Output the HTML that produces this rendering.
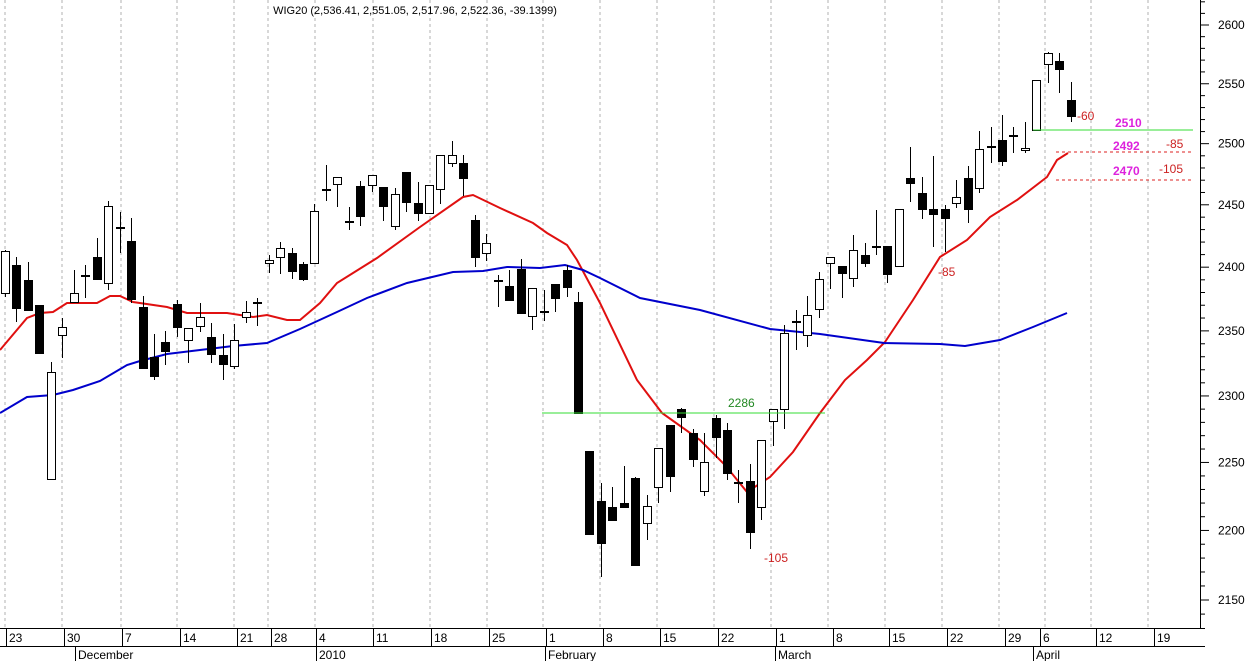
<!DOCTYPE html>
<html><head><meta charset="utf-8"><style>
html,body{margin:0;padding:0;background:#fff;width:1250px;height:661px;overflow:hidden}
svg{display:block;font-family:"Liberation Sans",sans-serif}
</style></head><body>
<svg id="c" width="1250" height="661" viewBox="0 0 1250 661" xmlns="http://www.w3.org/2000/svg">
<rect width="1250" height="661" fill="#fff"/>
<g id="grid"></g>
<g id="lines"></g>
<g id="candles"></g>
<g id="axis"></g>
<text x="415" y="14" font-size="11" text-anchor="middle" fill="#000">WIG20 (2,536.41, 2,551.05, 2,517.96, 2,522.36, -39.1399)</text>
<line x1="542" y1="413" x2="825" y2="413" stroke="#33dd33" stroke-width="1"/>
<text x="728" y="407" font-size="12" fill="#228822">2286</text>
<line x1="1033" y1="130" x2="1193" y2="130" stroke="#33dd33" stroke-width="1"/>
<line x1="1056" y1="152" x2="1192" y2="152" stroke="#dd2222" stroke-dasharray="3,3"/>
<line x1="1056" y1="180" x2="1192" y2="180" stroke="#dd2222" stroke-dasharray="3,3"/>
<text x="1115" y="127" font-size="12" font-weight="bold" fill="#dd22dd">2510</text>
<text x="1113" y="150" font-size="12" font-weight="bold" fill="#dd22dd">2492</text>
<text x="1113" y="175" font-size="12" font-weight="bold" fill="#dd22dd">2470</text>
<text x="1166" y="148" font-size="12" fill="#cc2222">-85</text>
<text x="1159" y="173" font-size="12" fill="#cc2222">-105</text>
<text x="1077" y="120" font-size="12" fill="#cc2222">-60</text>
<text x="938" y="276" font-size="12" fill="#cc2222">-85</text>
<text x="764" y="562" font-size="12" fill="#cc2222">-105</text>
</svg>
<script>
var NS="http://www.w3.org/2000/svg";
function el(p,t,a){var e=document.createElementNS(NS,t);for(var k in a)e.setAttribute(k,a[k]);document.getElementById(p).appendChild(e);return e;}
// grid
[5,62,121,177,234,268,315,373,430,487,543,600,657,714,771,828,885,942,999,1045,1091,1148].forEach(function(x){
 el("grid","line",{x1:x,y1:0,x2:x,y2:628,stroke:"#b0b0b0","stroke-dasharray":"3,3","stroke-width":1});
});
// MAs
var red=[[0,350],[27,318],[40,313],[53,312],[67,303],[97,303],[110,296],[120,296],[133,302],[167,307],[187,313],[227,313],[253,317],[267,315],[287,320],[300,320],[320,303],[337,283],[377,258],[420,227],[463,197],[473,195],[500,208],[533,223],[547,233],[567,245],[577,260],[600,303],[637,380],[662,413],[700,440],[725,465],[747,492],[770,477],[793,452],[820,413],[845,380],[867,360],[885,342],[913,300],[940,257],[967,240],[990,217],[1017,200],[1047,177],[1057,160],[1068,153]];
var blue=[[0,413],[27,397],[53,395],[73,390],[100,381],[127,365],[140,361],[167,354],[200,350],[233,346],[267,343],[300,329],[337,312],[367,298],[407,283],[453,272],[483,271],[507,267],[540,268],[565,265],[583,270],[600,278],[640,298],[700,310],[770,329],[820,334],[884,343],[940,344],[965,346],[1000,340],[1033,327],[1067,313]];
el("lines","polyline",{points:red.join(" "),fill:"none",stroke:"#e01010","stroke-width":2});
el("lines","polyline",{points:blue.join(" "),fill:"none",stroke:"#0000cc","stroke-width":2});
// candles: [wickTop, bodyTop, bodyBottom, wickBottom, filled]
var C=[[250,251,293,297,0],[257,265,308,322,1],[262,280,310,310,1],[305,305,353,353,1],[362,372,479,479,0],[318,327,335,358,0],[270,293,302,303,0],[265,276,276,298,1],[238,257,279,279,1],[201,206,283,290,0],[212,228,228,253,1],[218,241,299,303,1],[296,307,368,368,1],[334,357,376,380,1],[331,342,351,365,1],[300,304,327,337,1],[328,328,340,363,0],[303,317,326,332,0],[323,337,354,363,1],[334,355,364,380,1],[324,340,366,369,0],[301,312,317,323,0],[298,303,303,326,1],[255,260,263,273,0],[242,248,257,274,0],[248,253,271,279,1],[262,264,279,281,1],[204,211,263,263,0],
[165,190,190,201,1],[177,177,184,207,0],[207,222,222,230,1],[181,186,216,226,1],[175,175,185,192,0],[187,187,206,221,1],[188,194,226,230,0],[172,172,202,212,1],[182,203,213,221,1],[185,185,213,213,0],[155,155,189,204,0],[141,155,163,167,0],[155,163,178,196,1],[215,220,257,267,1],[234,243,253,261,0],[275,281,281,307,1],[270,286,300,301,1],[259,269,313,313,1],[288,288,316,330,0],[290,312,312,321,1],[284,284,298,312,1],[265,270,287,297,1],[292,302,413,413,1],
[451,451,534,534,1],[483,501,543,577,1],[487,507,520,520,1],[466,503,507,507,1],[477,478,565,565,1],[495,506,523,540,0],[448,448,487,503,0],[425,425,476,492,1],[408,409,417,433,1],[429,433,459,467,1],[433,462,491,496,0],[415,418,437,458,1],[423,430,473,480,1],[470,483,483,503,1],[464,481,532,549,1],[440,440,507,520,0],[409,409,421,446,0],[325,333,409,429,0],[310,322,322,350,1],[296,315,335,347,0],[272,279,309,318,0],[257,257,263,289,0],[266,266,273,298,1],[235,250,278,287,0],[243,255,263,267,1],[210,247,247,255,1],[246,246,274,283,1],[209,209,266,266,0],[147,178,183,202,1],[177,193,209,219,1],[156,209,214,247,1],[205,209,218,252,1],[180,197,203,208,0],[166,178,209,223,1],[131,149,188,193,0],[127,147,148,163,1],[115,140,161,166,1],[127,136,136,153,1],[122,148,150,153,0],[80,80,130,130,0],[52,53,64,83,0],[53,61,69,93,1],[82,100,116,122,1]];
C.forEach(function(c,i){
 var x=Math.round(5+11.46*i)+0.5;
 el("candles","line",{x1:x,y1:c[0],x2:x,y2:c[3],stroke:"#000","stroke-width":1});
 var h=c[2]-c[1];
 if(h<2){el("candles","rect",{x:x-4.5,y:c[1]-1,width:9,height:2,fill:"#000"});}
 else el("candles","rect",{x:x-4,y:c[1]+0.5,width:8,height:h,fill:c[4]?"#000":"#fff",stroke:"#000","stroke-width":1});
});
// right axis
el("axis","line",{x1:1200.5,y1:0,x2:1200.5,y2:628,stroke:"#000"});
function Y(p){return 25+3025.6*Math.log(2600/p);}
for(var p=2130;p<=2640;p+=10){var y=Y(p);if(y<0||y>628)continue;var maj=p%50==0;
 el("axis","line",{x1:1200,y1:y,x2:maj?1209:1205,y2:y,stroke:"#000"});
 if(maj){var t=el("axis","text",{x:1218,y:y+4,"font-size":12,fill:"#000"});t.textContent=p;}}
// bottom axis
el("axis","line",{x1:0,y1:628.5,x2:1205,y2:628.5,stroke:"#000"});
el("axis","line",{x1:0,y1:646.5,x2:1205,y2:646.5,stroke:"#000"});
var wk=[[6,"23"],[64,"30"],[122,"7"],[180,"14"],[237,"21"],[271,"28"],[316,"4"],[373,"11"],[431,"18"],[489,"25"],[546,"1"],[603,"8"],[660,"15"],[718,"22"],[776,"1"],[833,"8"],[889,"15"],[947,"22"],[1005,"29"],[1040,"6"],[1096,"12"],[1154,"19"]];
wk.forEach(function(w){el("axis","line",{x1:w[0]+0.5,y1:629,x2:w[0]+0.5,y2:646,stroke:"#000"});
 var t=el("axis","text",{x:w[0]+3,y:642,"font-size":12,fill:"#000"});t.textContent=w[1];});
[[75,"December"],[316,"2010"],[545,"February"],[775,"March"],[1033,"April"]].forEach(function(m){
 el("axis","line",{x1:m[0]+0.5,y1:646,x2:m[0]+0.5,y2:661,stroke:"#000"});
 var t=el("axis","text",{x:m[0]+3,y:659,"font-size":12,fill:"#000"});t.textContent=m[1];});
</script>
</body></html>
